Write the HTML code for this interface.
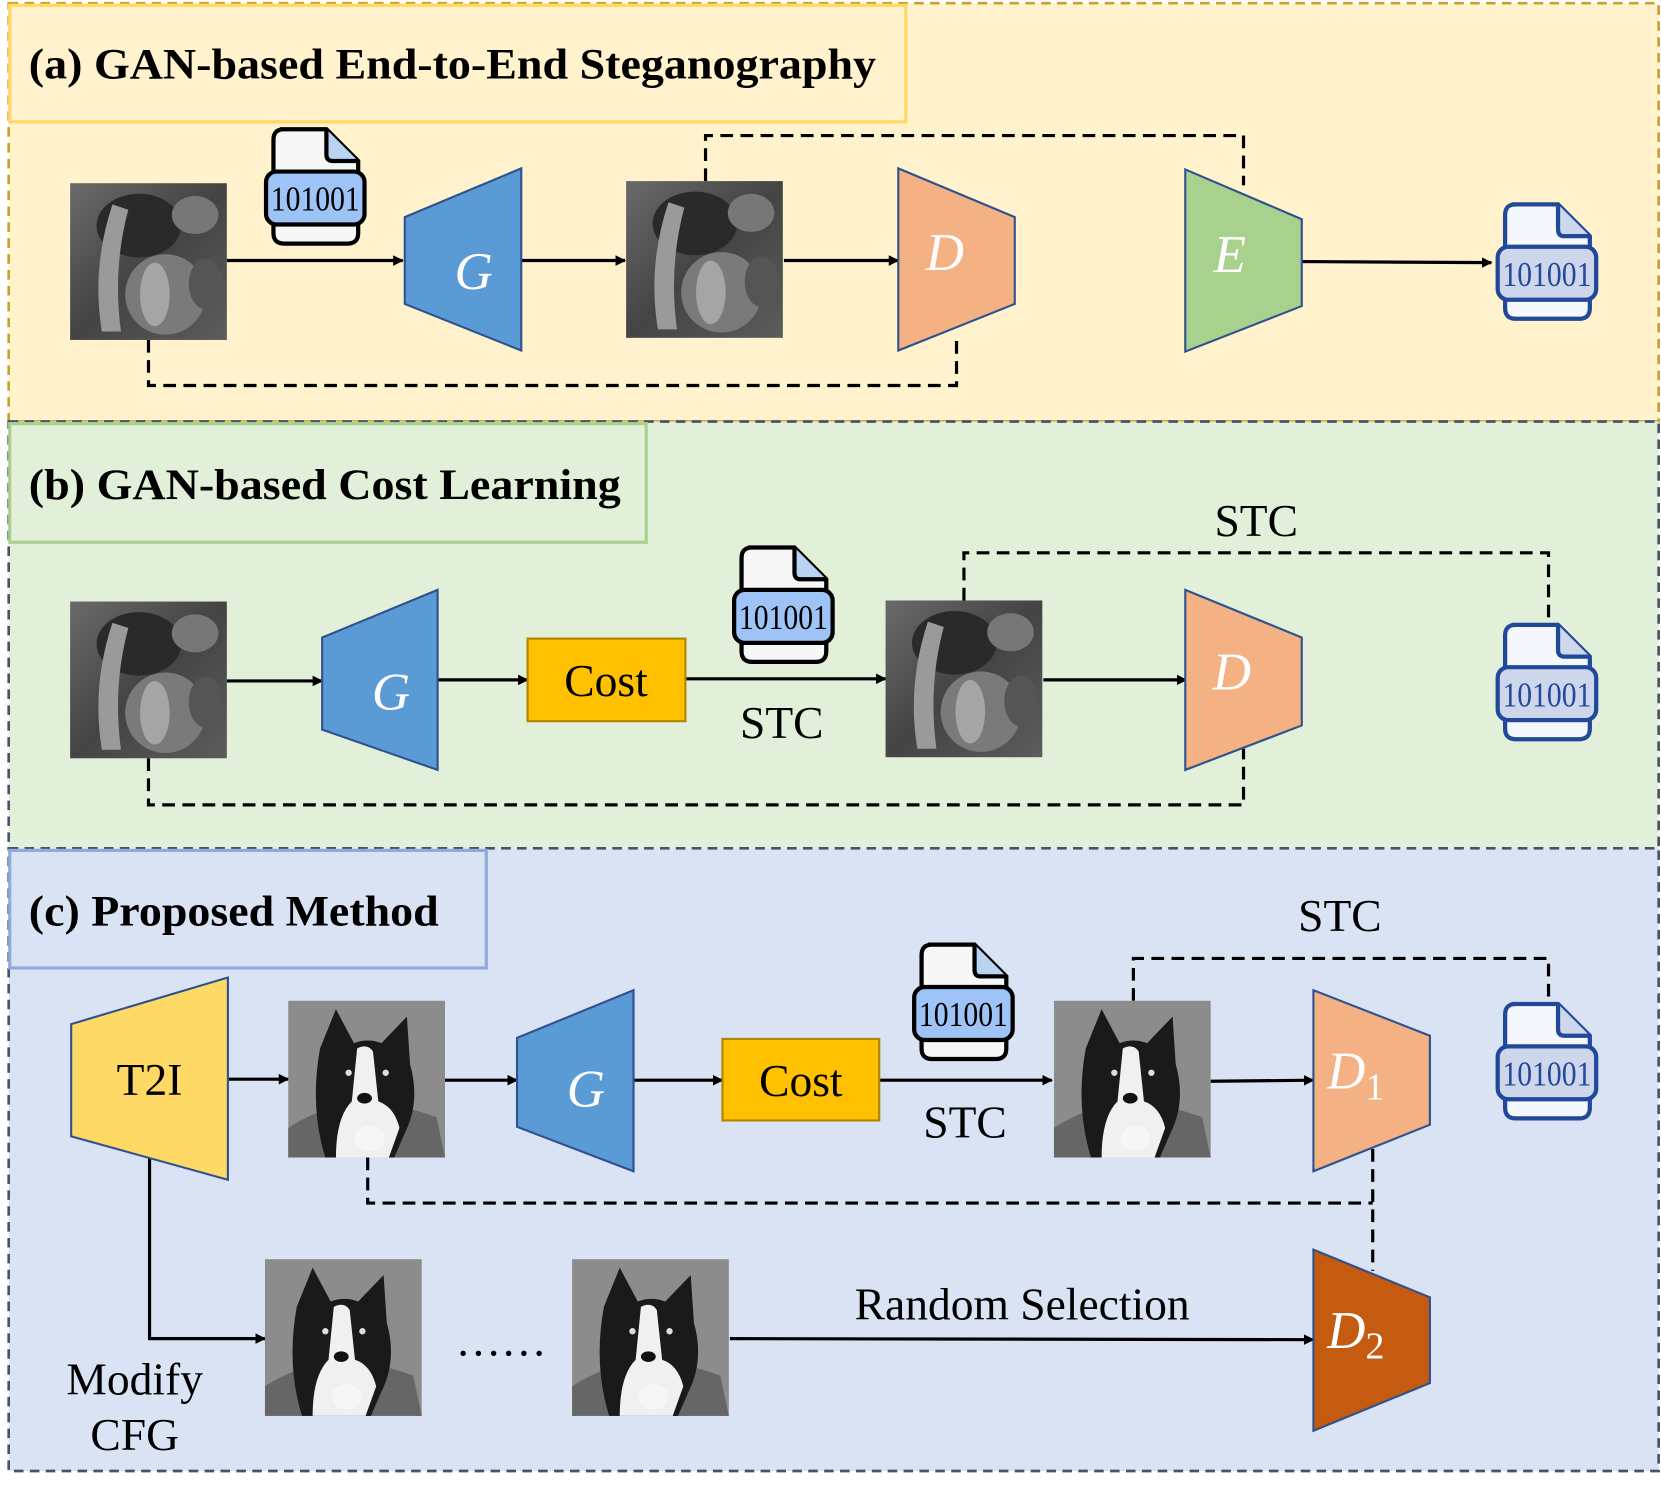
<!DOCTYPE html>
<html><head><meta charset="utf-8"><style>
html,body{margin:0;padding:0;background:#fff;}
svg{display:block}
text{font-family:"Liberation Serif",serif;}
</style></head><body>
<svg width="1661" height="1489" viewBox="0 0 1568 1406" xmlns="http://www.w3.org/2000/svg">
<defs>
<marker id="ar" markerWidth="10" markerHeight="10" refX="9" refY="5" orient="auto" markerUnits="userSpaceOnUse"><path d="M0,0 L10,5 L0,10 z" fill="#000"/></marker>
<linearGradient id="pg" x1="0" y1="0" x2="1" y2="1"><stop offset="0" stop-color="#6a6a6a"/><stop offset="0.5" stop-color="#444"/><stop offset="1" stop-color="#5c5c5c"/></linearGradient>
<g id="pep">
<rect width="148" height="148" fill="url(#pg)"/>
<ellipse cx="65" cy="40" rx="40" ry="30" fill="#2a2a2a"/>
<ellipse cx="118" cy="30" rx="22" ry="18" fill="#777"/>
<path d="M40,20 Q20,80 30,140 L48,140 Q40,80 55,25 z" fill="#9a9a9a"/>
<ellipse cx="90" cy="105" rx="38" ry="38" fill="#7a7a7a"/>
<ellipse cx="80" cy="105" rx="14" ry="30" fill="#a5a5a5"/>
<ellipse cx="128" cy="95" rx="16" ry="24" fill="#555"/>
</g>
<g id="dog">
<rect width="148" height="148" fill="#8c8c8c"/>
<path d="M0,120 Q60,80 140,110 L148,148 L0,148z" fill="#666"/>
<path d="M30,45 L45,8 L62,40 Q75,35 88,40 L112,15 L115,60 Q125,95 110,125 L100,148 L35,148 Q20,100 30,45z" fill="#1a1a1a"/>
<path d="M65,45 Q75,40 80,48 L85,95 Q100,100 105,120 L95,148 L45,148 Q45,110 60,95z" fill="#f0f0f0"/>
<ellipse cx="72" cy="92" rx="7" ry="5" fill="#111"/>
<circle cx="57" cy="68" r="3" fill="#ddd"/><circle cx="92" cy="68" r="3" fill="#ddd"/>
<ellipse cx="77" cy="130" rx="14" ry="12" fill="#f6f6f6"/>
</g>
<g id="msg">
<path d="M14,0 H58 L88,30 V98 Q88,108 78,108 H18 Q8,108 8,98 V10 Q8,0 18,0z" fill="#f7f7f7" stroke="#000" stroke-width="4"/>
<path d="M58,0 V24 Q58,30 64,30 H88" fill="#b9d3f3" stroke="#000" stroke-width="4"/>
<rect x="1" y="40" width="93" height="50" rx="10" fill="#9dc3f7" stroke="#000" stroke-width="4"/>
<text x="47.5" y="77" font-size="33" text-anchor="middle" font-family="DejaVu Sans Condensed, sans-serif" fill="#000" textLength="84" lengthAdjust="spacingAndGlyphs">101001</text>
</g>
<g id="out">
<path d="M14,0 H58 L88,30 V98 Q88,108 78,108 H18 Q8,108 8,98 V10 Q8,0 18,0z" fill="#f4f7fc" stroke="#22489a" stroke-width="4"/>
<path d="M58,0 V24 Q58,30 64,30 H88" fill="#cfd8ea" stroke="#22489a" stroke-width="4"/>
<rect x="1" y="40" width="93" height="50" rx="10" fill="#cdd6ea" stroke="#22489a" stroke-width="4"/>
<text x="47.5" y="77" font-size="33" text-anchor="middle" font-family="DejaVu Sans Condensed, sans-serif" fill="#22489a" textLength="84" lengthAdjust="spacingAndGlyphs">101001</text>
</g>
</defs>

<rect x="8" y="3" width="1558" height="395" fill="#fff2cc" stroke="#c9a227" stroke-width="2.5" stroke-dasharray="9,6"/>
<rect x="8" y="398" width="1558" height="403" fill="#e2efd9" stroke="#44546a" stroke-width="2.5" stroke-dasharray="9,6"/>
<rect x="8" y="801" width="1558" height="588" fill="#dae3f3" stroke="#44546a" stroke-width="2.5" stroke-dasharray="9,6"/>
<rect x="9" y="5" width="846" height="110" fill="none" stroke="#ffd966" stroke-width="3"/>
<rect x="9" y="400" width="601" height="112" fill="none" stroke="#a9d18e" stroke-width="3"/>
<rect x="9" y="803" width="450" height="111" fill="none" stroke="#8faadc" stroke-width="3"/>
<g font-weight="bold" font-size="41" fill="#000">
<text x="27" y="74" textLength="800" lengthAdjust="spacingAndGlyphs">(a) GAN-based End-to-End Steganography</text>
<text x="27" y="471" textLength="559" lengthAdjust="spacingAndGlyphs">(b) GAN-based Cost Learning</text>
<text x="27" y="874" textLength="387" lengthAdjust="spacingAndGlyphs">(c) Proposed Method</text>
</g>

<g stroke="#000" stroke-width="3" fill="none">
<line x1="214" y1="246" x2="380" y2="246" marker-end="url(#ar)"/>
<line x1="492" y1="246" x2="590" y2="246" marker-end="url(#ar)"/>
<line x1="740" y1="246" x2="848" y2="246" marker-end="url(#ar)"/>
<line x1="1229" y1="247" x2="1408" y2="248" marker-end="url(#ar)"/>
<polyline points="666,171 666,128 1174,128 1174,175" stroke-dasharray="12,7"/>
<polyline points="140,321 140,364 903,364 903,320" stroke-dasharray="12,7"/>
<line x1="214" y1="643" x2="304" y2="643" marker-end="url(#ar)"/>
<line x1="413" y1="642" x2="498" y2="642" marker-end="url(#ar)"/>
<line x1="647" y1="641" x2="836" y2="641" marker-end="url(#ar)"/>
<line x1="985" y1="642" x2="1120" y2="642" marker-end="url(#ar)"/>
<polyline points="910,567 910,522 1462,522 1462,590" stroke-dasharray="12,7"/>
<polyline points="140,716 140,760 1174,760 1174,707" stroke-dasharray="12,7"/>
<line x1="215" y1="1019" x2="272" y2="1019" marker-end="url(#ar)"/>
<line x1="420" y1="1020" x2="488" y2="1020" marker-end="url(#ar)"/>
<line x1="598" y1="1020" x2="682" y2="1020" marker-end="url(#ar)"/>
<line x1="830" y1="1020" x2="993" y2="1020" marker-end="url(#ar)"/>
<line x1="1143" y1="1021" x2="1240" y2="1020" marker-end="url(#ar)"/>
<polyline points="1070,945 1070,905 1462,905 1462,948" stroke-dasharray="12,7"/>
<polyline points="347,1093 347,1136 1296,1136" stroke-dasharray="12,7"/>
<line x1="1296" y1="1085" x2="1296" y2="1200" stroke-dasharray="12,7"/>
<polyline points="141,1094 141,1264 250,1264" marker-end="url(#ar)"/>
<line x1="689" y1="1264" x2="1240" y2="1265" marker-end="url(#ar)"/>
</g>

<use href="#pep" x="66" y="173"/>
<use href="#pep" x="591" y="171"/>
<use href="#pep" x="66" y="568"/>
<use href="#pep" x="836" y="567"/>
<use href="#dog" x="272" y="945"/>
<use href="#dog" x="995" y="945"/>
<use href="#dog" x="250" y="1189"/>
<use href="#dog" x="540" y="1189"/>

<g stroke="#2f528f" stroke-width="2">
<polygon points="382,205 492,159 492,331 382,287" fill="#5b9bd5"/>
<polygon points="848,159 958,205 958,287 848,331" fill="#f4b183"/>
<polygon points="1119,160 1229,207 1229,289 1119,332" fill="#a9d18e"/>
<polygon points="304,602 413,557 413,727 304,689" fill="#5b9bd5"/>
<polygon points="1119,557 1229,602 1229,685 1119,727" fill="#f4b183"/>
<polygon points="67,967 215,923 215,1114 67,1073" fill="#ffd966"/>
<polygon points="488,980 598,935 598,1106 488,1064" fill="#5b9bd5"/>
<polygon points="1240,935 1350,978 1350,1062 1240,1106" fill="#f4b183"/>
<polygon points="1240,1180 1350,1225 1350,1306 1240,1351" fill="#c55a11"/>
</g>
<g fill="#fff" font-style="italic" font-size="50" text-anchor="middle">
<text x="447" y="273">G</text>
<text x="892" y="255">D</text>
<text x="1161" y="257">E</text>
<text x="369" y="670">G</text>
<text x="1163" y="651">D</text>
<text x="553" y="1045">G</text>
<text x="1280" y="1028">D<tspan font-size="36" font-style="normal" dy="10">1</tspan></text>
<text x="1280" y="1273">D<tspan font-size="36" font-style="normal" dy="10">2</tspan></text>
</g>

<rect x="498" y="603" width="149" height="78" fill="#ffc000" stroke="#b08400" stroke-width="2"/>
<rect x="682" y="981" width="148" height="77" fill="#ffc000" stroke="#b08400" stroke-width="2"/>
<g font-size="43" text-anchor="middle" fill="#000">
<text x="572" y="657">Cost</text>
<text x="756" y="1035">Cost</text>
<text x="141" y="1034">T2I</text>
<text x="738" y="697">STC</text>
<text x="1186" y="506">STC</text>
<text x="911" y="1074">STC</text>
<text x="1265" y="879">STC</text>
<text x="965" y="1246">Random Selection</text>
<text x="127" y="1317">Modify</text>
<text x="127" y="1369">CFG</text>
<text x="473" y="1280">……</text>
</g>

<use href="#msg" x="250" y="122"/>
<use href="#out" x="1413" y="193"/>
<use href="#msg" x="692" y="517"/>
<use href="#out" x="1413" y="590"/>
<use href="#msg" x="862" y="892"/>
<use href="#out" x="1413" y="948"/>
</svg>
</body></html>
